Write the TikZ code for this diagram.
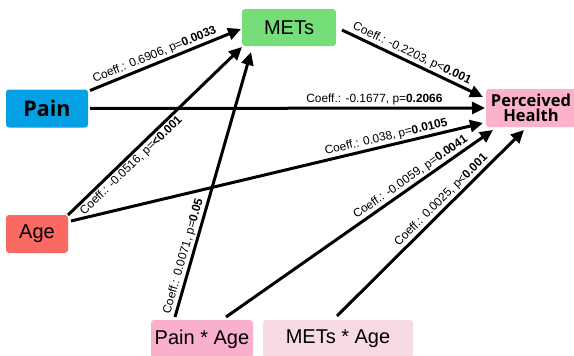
\documentclass[tikz,border=0pt]{standalone}
\usepackage{fontspec}
\setmainfont{Liberation Sans}
\newfontfamily\boldnode{Open Sans}[UprightFont=* Bold]
\usetikzlibrary{arrows.meta}
\definecolor{painblue}{RGB}{3,161,227}
\definecolor{metsgreen}{RGB}{118,222,120}
\definecolor{phpink}{RGB}{252,178,205}
\definecolor{agered}{RGB}{250,105,98}
\definecolor{papink}{RGB}{248,176,204}
\definecolor{mapink}{RGB}{248,218,228}
\tikzset{
  box/.style={rectangle, rounded corners=3pt, outer sep=0pt, inner sep=0pt, align=center},
  reg/.style={font=\fontsize{20}{22}\selectfont},
  bld/.style={font=\boldnode\fontsize{21.5}{23}\selectfont},
  conn/.style={line width=3pt, -{Triangle[length=13pt,width=12pt]}},
  lab/.style={sloped, inner sep=1.5pt, font=\fontsize{11.9}{13}\selectfont}
}
\begin{document}
\begin{tikzpicture}[x=1pt,y=-1pt]
\useasboundingbox (0,0) rectangle (574,356);
\node[box, bld, fill=painblue, minimum width=82pt, minimum height=38pt] (pain) at (47,108.5) {Pain};
\node[box, reg, fill=metsgreen, minimum width=94pt, minimum height=37pt] (mets) at (289,27.5) {METs};
\node[box, fill=phpink, minimum width=90pt, minimum height=38pt, font=\boldnode\fontsize{16.5}{15}\selectfont] (ph) at (531,108) {Perceived\\Health};
\node[box, reg, fill=agered, minimum width=62pt, minimum height=38pt] (age) at (37,234) {Age};
\node[box, reg, fill=papink, minimum width=102pt, minimum height=38pt] (painage) at (202,339) {Pain * Age};
\node[box, reg, fill=mapink, minimum width=150pt, minimum height=38pt] (metsage) at (338,339) {METs * Age};

\draw[conn] ([shift={(2,1)}]pain.north east) -- node[lab, above, pos=0.45] {Coeff.: 0.6906, p=\textbf{0.0033}} ([shift={(-1,1.5)}]mets.west);
\draw[conn] ([shift={(2,0)}]pain.east) -- node[lab, above, pos=0.72] {Coeff.: -0.1677, p=\textbf{0.2066}} ([shift={(-1,0)}]ph.west);
\draw[conn] ([shift={(6,2.5)}]mets.east) -- node[lab, above, pos=0.47] {Coeff.: -0.2203, p<\textbf{0.001}} ([shift={(-3,-11)}]ph.west);
\draw[conn] (age.north east) -- node[lab, below, pos=0.33] {Coeff.: -0.0516, p=\textbf{<0.001}} ([shift={(0,1)}]mets.south west);
\draw[conn] ([shift={(3,6)}]age.north east) -- node[lab, above, pos=0.77] {Coeff.: 0.038, p=\textbf{0.0105}} ([shift={(-3,-4)}]ph.south west);
\draw[conn] ([shift={(-27,-3)}]painage.north) -- node[lab, above, pos=0.22] {Coeff.: 0.0071, p=\textbf{0.05}} ([shift={(9,6)}]mets.south west);
\draw[conn] ([shift={(24,-3)}]painage.north) -- node[lab, above, pos=0.71] {Coeff.: -0.0059, p=\textbf{0.0041}} ([shift={(7,3)}]ph.south west);
\draw[conn] ([shift={(-1,-4)}]metsage.north) -- node[lab, above, pos=0.59] {Coeff.: 0.0025, p<\textbf{0.001}} ([shift={(-7,3)}]ph.south);
\end{tikzpicture}
\end{document}
